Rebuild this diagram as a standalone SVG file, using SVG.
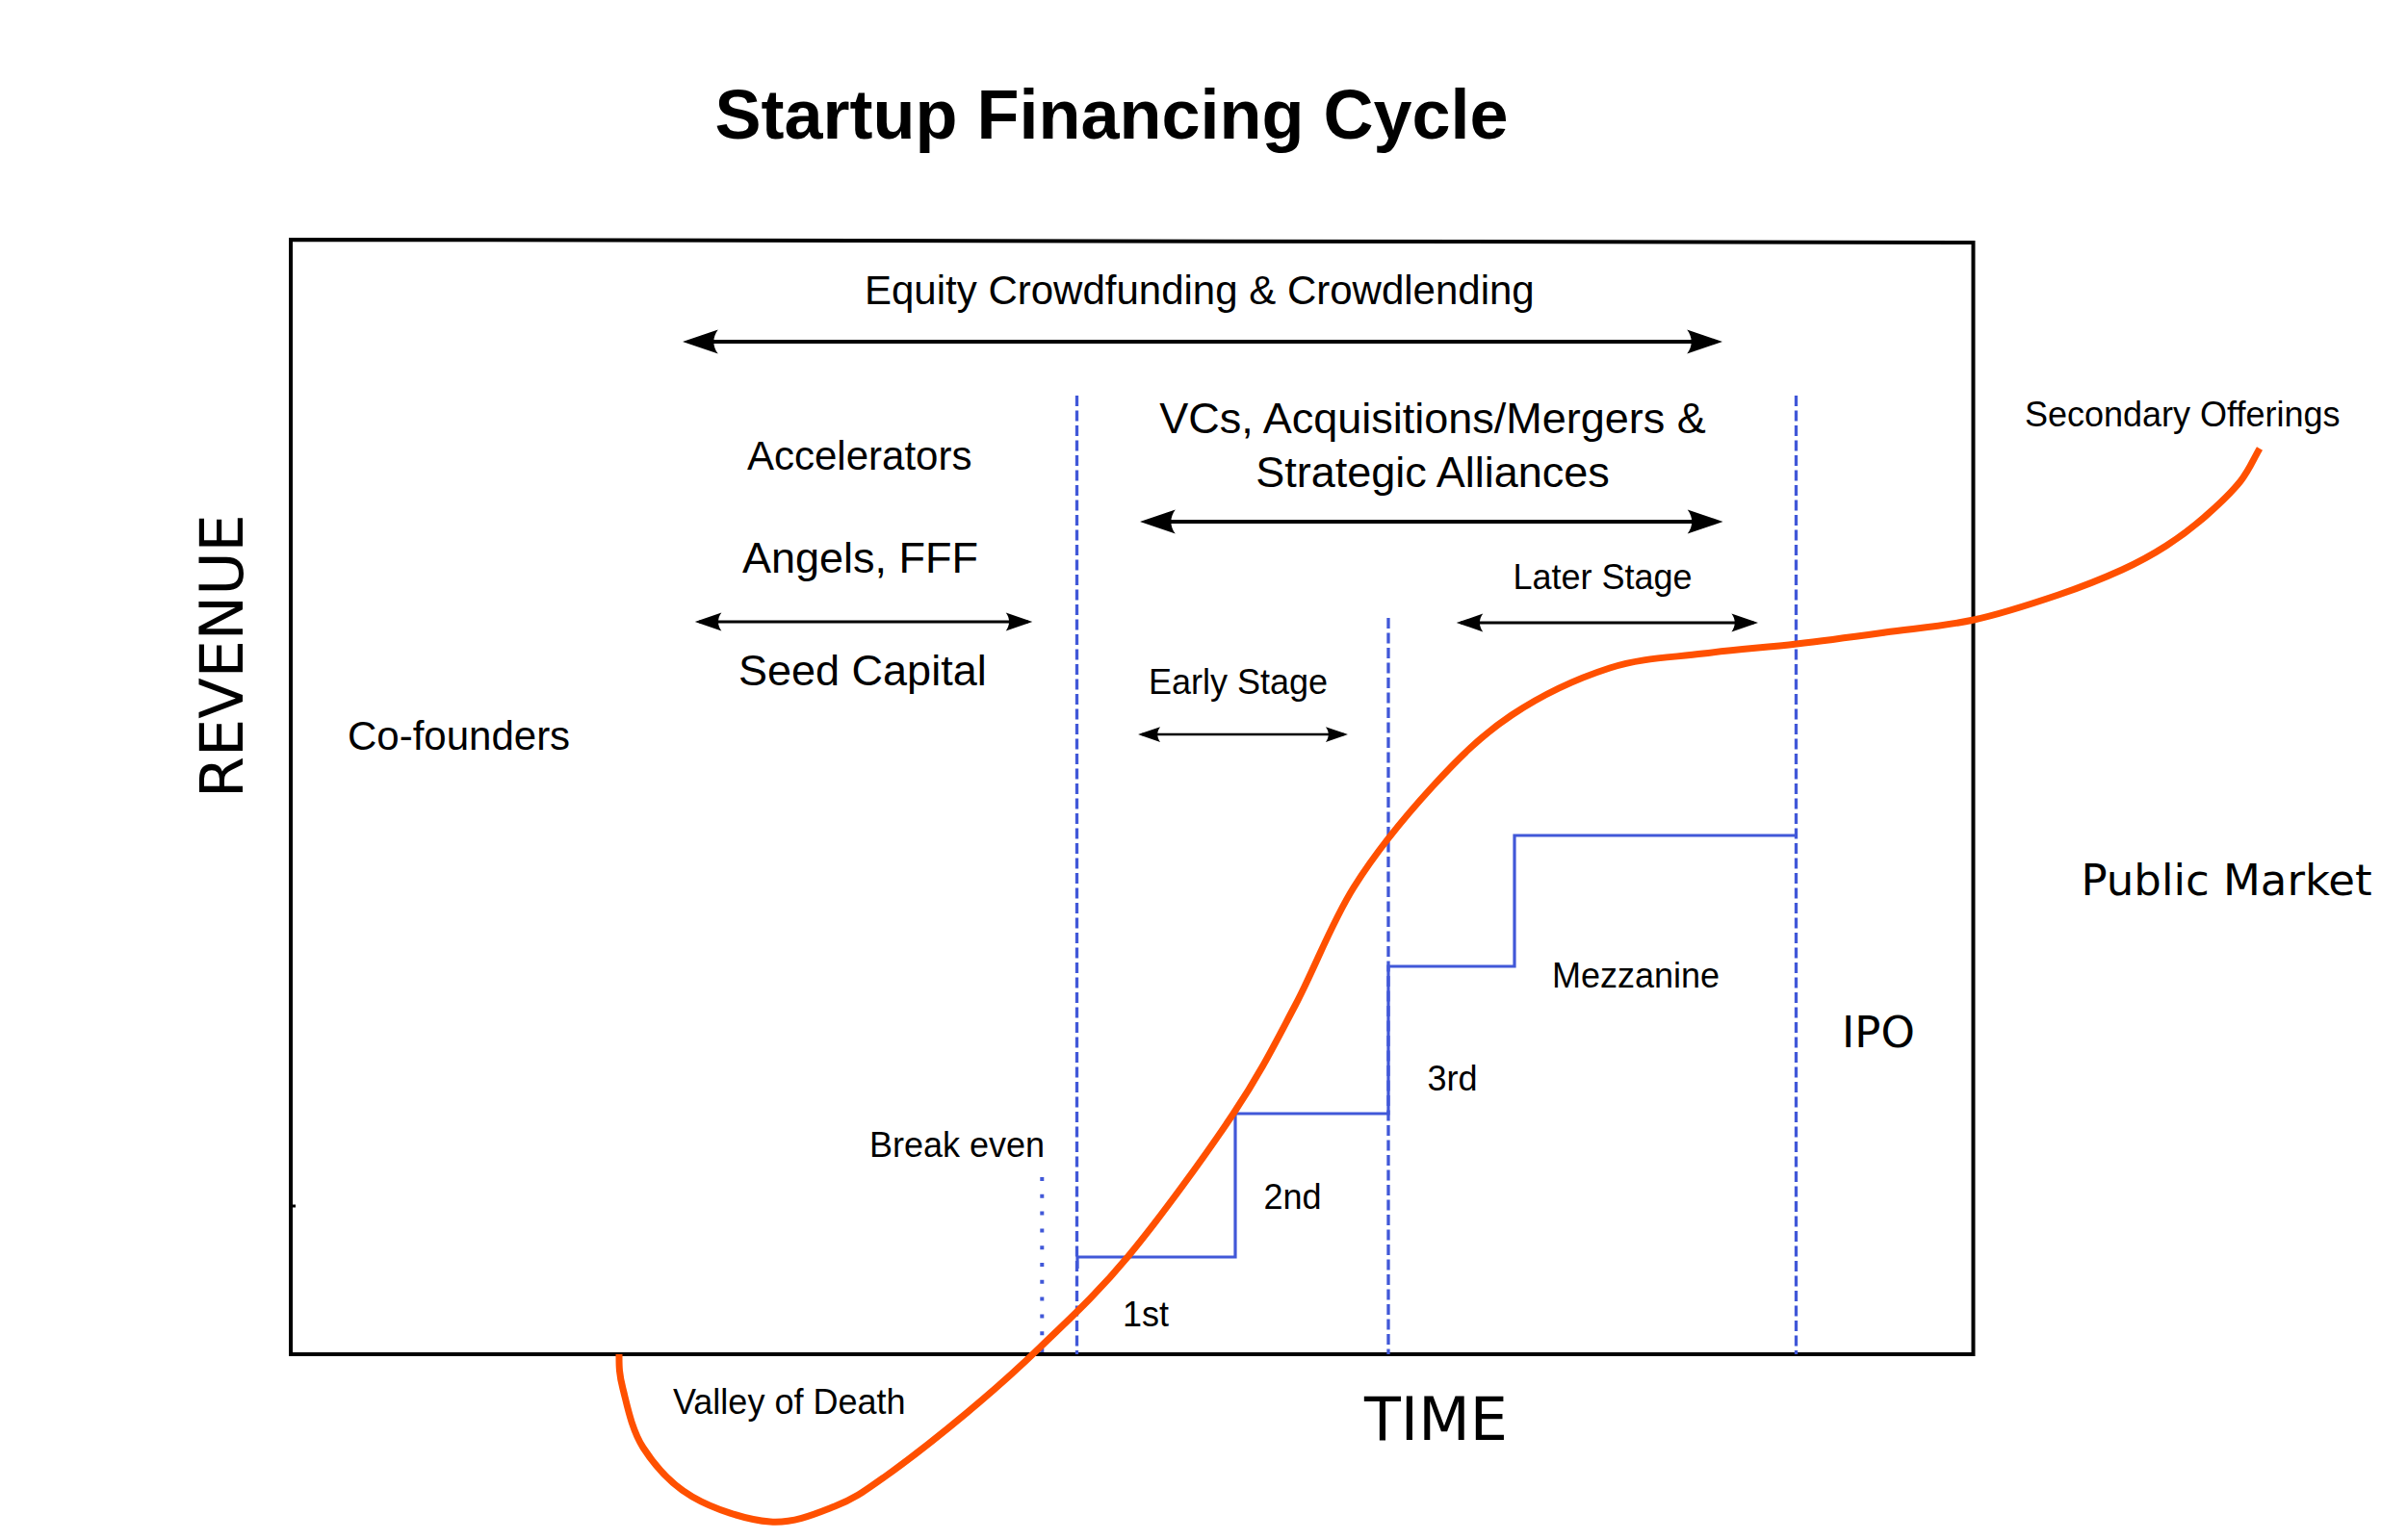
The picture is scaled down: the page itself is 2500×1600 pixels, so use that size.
<svg xmlns="http://www.w3.org/2000/svg" width="2500" height="1600" viewBox="0 0 2500 1600">
<style>
.lbl{font-family:"Liberation Sans",Arial,sans-serif;fill:#000}
.dv{font-family:"DejaVu Sans",Verdana,sans-serif;fill:#000}
.arr{stroke:#000;fill:none;marker-start:url(#ah);marker-end:url(#ah)}
.vdash{stroke:#4158d8;stroke-width:3.3;stroke-dasharray:11 4.5;fill:none}
</style>
<defs>
<marker id="ah" markerUnits="strokeWidth" markerWidth="12" markerHeight="8" refX="0" refY="0" viewBox="-9 -4 12 8" orient="auto-start-reverse" overflow="visible">
<path d="M1.5,0 L-7.7,-3.15 C-6.2,-1.2 -6.2,1.2 -7.7,3.15 Z" fill="#000"/>
</marker>
</defs>
<rect width="2500" height="1600" fill="#fff"/>

<g id="title">
<text class="lbl" x="1154.5" y="143.5" font-size="72" font-weight="bold" text-anchor="middle">Startup Financing Cycle</text>
</g>

<g id="frame">
<path d="M302,249 L2049.5,252 L2049.5,1407 L302,1407 Z" fill="none" stroke="#000" stroke-width="4"/>
<line x1="302" y1="1253" x2="307" y2="1253" stroke="#000" stroke-width="3"/>
</g>

<g id="axes">
<text class="dv" font-size="62" transform="translate(251.5,829) rotate(-90)">REVENUE</text>
<text class="dv" x="1417" y="1496" font-size="62">TIME</text>
</g>

<g id="stage-lines">
<line class="vdash" x1="1118.5" y1="411" x2="1118.5" y2="1407"/>
<line class="vdash" x1="1442" y1="642" x2="1442" y2="1407"/>
<line class="vdash" x1="1865.5" y1="411" x2="1865.5" y2="1407"/>
<line x1="1082.3" y1="1223" x2="1082.3" y2="1407" stroke="#4158d8" stroke-width="4" stroke-dasharray="4 13.8"/>
</g>

<g id="funding-steps">
<path d="M1119,1318 V1306 H1283 V1157 H1442 V1004 H1573 V868 H1866" fill="none" stroke="#4158d8" stroke-width="3.2"/>
</g>

<g id="connectors">
<line class="arr" x1="715" y1="355" x2="1783" y2="355" stroke-width="4"/>
<line class="arr" x1="1190" y1="542" x2="1783.5" y2="542" stroke-width="4"/>
<line class="arr" x1="726.3" y1="646" x2="1067.8" y2="646" stroke-width="3"/>
<line class="arr" x1="1517.2" y1="647" x2="1821.5" y2="647" stroke-width="3"/>
<line class="arr" x1="1185.8" y1="763" x2="1396.2" y2="763" stroke-width="2.5"/>
</g>

<g id="revenue-curve">
<path d="M643,1407 C643,1419 642.8,1426.8 647,1443 S656,1485.3 668,1504 S697,1542.2 719,1555 S775.3,1579.3 800,1581 S847.3,1572.7 867,1565 S895.2,1551.2 918,1535 S977,1490.5 1004,1468 S1052,1427.2 1080,1400 S1138.5,1345.5 1172,1305 S1252.2,1200.3 1281,1157 S1324.2,1084.2 1345,1045 S1382.2,960 1406,922 S1460.7,846.8 1488,817 S1539.3,763.5 1570,743 S1638.8,704.7 1672,694 S1736.7,683.2 1769,679 S1834.5,672.7 1866,669 S1927.3,661.2 1958,657 S2020,650.5 2050,644 S2112.3,626.7 2138,618 S2185.3,600.5 2204,592 S2235.5,576.3 2250,567 S2278.2,547.2 2291,536 S2317.7,511.7 2327,500 S2340.3,477.3 2347,466" fill="none" stroke="#ff5000" stroke-width="7"/>
</g>

<g id="equity-crowdfunding">
<text class="lbl" x="898" y="316" font-size="42">Equity Crowdfunding &amp; Crowdlending</text>
</g>
<g id="accelerators">
<text class="lbl" x="776" y="488" font-size="42">Accelerators</text>
</g>
<g id="angels">
<text class="lbl" x="771" y="595" font-size="45">Angels, FFF</text>
</g>
<g id="seed-capital">
<text class="lbl" x="767" y="712" font-size="45">Seed Capital</text>
</g>
<g id="co-founders">
<text class="lbl" x="361" y="778.5" font-size="42">Co-founders</text>
</g>
<g id="vcs">
<text class="lbl" x="1488" y="450" font-size="45" text-anchor="middle">VCs, Acquisitions/Mergers &amp;</text>
<text class="lbl" x="1488" y="505.5" font-size="45" text-anchor="middle">Strategic Alliances</text>
</g>
<g id="later-stage">
<text class="lbl" x="1571.5" y="611.6" font-size="36">Later Stage</text>
</g>
<g id="early-stage">
<text class="lbl" x="1193" y="721" font-size="36">Early Stage</text>
</g>
<g id="break-even">
<text class="lbl" x="903" y="1202" font-size="36">Break even</text>
</g>
<g id="valley-of-death">
<text class="lbl" x="699" y="1469" font-size="36">Valley of Death</text>
</g>
<g id="round-1st">
<text class="lbl" x="1166" y="1378" font-size="36">1st</text>
</g>
<g id="round-2nd">
<text class="lbl" x="1312.5" y="1255.6" font-size="36">2nd</text>
</g>
<g id="round-3rd">
<text class="lbl" x="1482.5" y="1132.6" font-size="36">3rd</text>
</g>
<g id="mezzanine">
<text class="lbl" x="1612" y="1025.5" font-size="36">Mezzanine</text>
</g>
<g id="ipo">
<text class="dv" x="1913" y="1088" font-size="45">IPO</text>
</g>
<g id="public-market">
<text class="dv" x="2161.5" y="930" font-size="45">Public Market</text>
</g>
<g id="secondary-offerings">
<text class="lbl" x="2103" y="443" font-size="36">Secondary Offerings</text>
</g>
</svg>
